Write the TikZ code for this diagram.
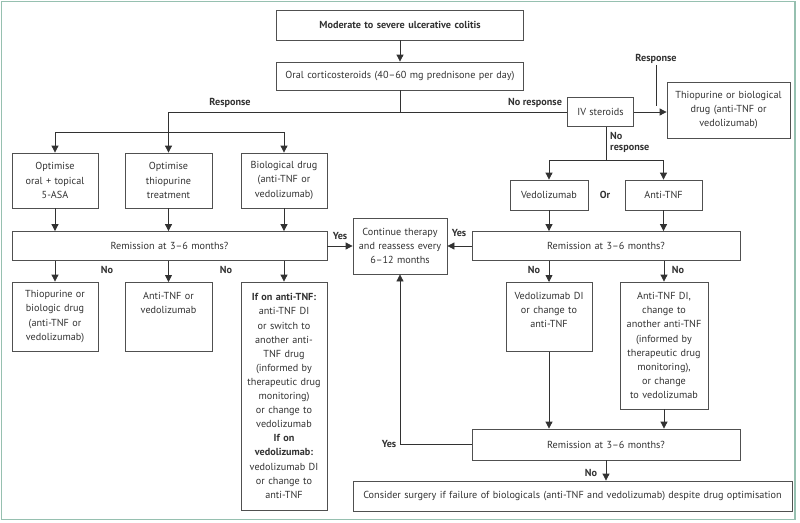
\documentclass[tikz,border=0pt]{standalone}
\usepackage{fontspec}
\setmainfont{PT Sans}
\usepackage{xcolor}
\usepackage{tikz}
\usetikzlibrary{arrows.meta}

\definecolor{frameteal}{RGB}{150,192,176}
\definecolor{ink}{RGB}{50,50,50}
\definecolor{boxline}{RGB}{80,80,80}

\tikzset{
  box/.style={draw=boxline, line width=0.8pt, align=center, inner sep=0pt, text width=#1},
  topbox/.style={anchor=north, text height=17pt, text depth=#1},
  lbl/.style={font=\fontsize{10.2}{12}\selectfont\bfseries, inner sep=1pt},
  ln/.style={draw=ink, line width=0.8pt},
  arr/.style={ln, -{Triangle[length=7pt,width=7pt]}}
}

\begin{document}
\begin{tikzpicture}[x=1pt,y=-1pt,
  every node/.append style={font=\fontsize{10.2}{14.1}\selectfont, text=ink}]
\useasboundingbox (0,0) rectangle (800,522);
\draw[frameteal, line width=1.5pt] (1.5,1.5) rectangle (795,519.5);

% top of the chart
\node[box=247pt, minimum height=30pt] (severe) at (400,25) {\bfseries Moderate to severe ulcerative colitis};
\node[box=247pt, minimum height=28pt] (oral) at (400,76) {Oral corticosteroids (40--60 mg prednisone per day)};
\node[box=66pt, minimum height=29pt] (iv) at (600.5,112) {IV steroids};
\node[box=123pt, minimum height=56pt] (thio) at (728.5,110) {Thiopurine or biological\\drug (anti-TNF or\\vedolizumab)};

% response branch
\node[box=86pt, minimum height=55pt] (opt1) at (55,180.5) {Optimise\\oral + topical\\5-ASA};
\node[box=87pt, minimum height=55pt] (opt2) at (168.5,180.5) {Optimise\\thiopurine\\treatment};
\node[box=86pt, minimum height=55pt] (opt3) at (284,180.5) {Biological drug\\(anti-TNF or\\vedolizumab)};
\node[box=315pt, minimum height=29pt] (remL) at (169.5,246) {Remission at 3--6 months?};
\node[box=86pt, minimum height=69pt] (noL1) at (55,316.5) {Thiopurine or\\biologic drug\\(anti-TNF or\\vedolizumab)};
\node[box=87pt, topbox=52pt] (noL2) at (168.5,282) {Anti-TNF or\\vedolizumab};
\node[box=86pt, minimum height=228pt] (noL3) at (284,396) {\textbf{If on anti-TNF:}\\anti-TNF DI\\or switch to\\another anti-\\TNF drug\\(informed by\\therapeutic drug\\monitoring)\\or change to\\vedolizumab\\\textbf{If on}\\\textbf{vedolizumab:}\\vedolizumab DI\\or change to\\anti-TNF};

\node[box=94pt, minimum height=56pt] (cont) at (400,246) {Continue therapy\\and reassess every\\6--12 months};

% no response branch
\node[box=78pt, minimum height=30pt] (vedo) at (549,195) {Vedolizumab};
\node[box=77pt, minimum height=30pt] (antitnf) at (663.5,195) {Anti-TNF};
\node[box=268pt, minimum height=29pt] (remR) at (606,246) {Remission at 3--6 months?};
\node[box=86pt, topbox=52pt] (vdi) at (549,282) {Vedolizumab DI\\or change to\\anti-TNF};
\node[box=88pt, minimum height=127pt] (tdi) at (664,345.5) {Anti-TNF DI,\\change to\\another anti-TNF\\(informed by\\therapeutic drug\\monitoring),\\or change\\to vedolizumab};
\node[box=268pt, minimum height=31pt] (remB) at (606,444.5) {Remission at 3--6 months?};
\node[box=439pt, minimum height=30pt] (surg) at (572.5,496) {Consider surgery if failure of biologicals (anti-TNF and vedolizumab) despite drug optimisation};

% labels
\node[lbl] (resp1) at (230,103) {Response};
\node[lbl] (noresp1) at (535,103) {No response};
\node[lbl] (resp2) at (656,59) {Response};
\node[lbl, align=left, anchor=west] (noresp2) at (609,142.5) {No\\[-1pt]response};
\node[lbl] (orlbl) at (605,195) {Or};
\node[lbl] (yes1) at (340,236) {Yes};
\node[lbl] (yes2) at (459,233) {Yes};
\node[lbl] (no1) at (107,270) {No};
\node[lbl] (no2) at (226,270) {No};
\node[lbl] (no3) at (534,270) {No};
\node[lbl] (no4) at (678,270) {No};
\node[lbl] (yes3) at (389,444) {Yes};
\node[lbl] (no5) at (591,473) {No};

\coordinate (split) at (400,112);
\coordinate (fan) at (168,132);
\coordinate (ivfan) at (606,160);
\coordinate (resptick) at (656,106);

% connectors
\draw[arr] (severe) -- (oral);
\draw[ln] (oral.south) -- (split) -- (iv.west);
\draw[arr] (split) -| (opt2.north);
\draw[ln] (fan -| opt1) -- (fan -| opt3);
\draw[arr] (fan -| opt1) -- (opt1);
\draw[arr] (fan -| opt3) -- (opt3);
\draw[arr] (iv.east) -- (iv.east -| thio.west);
\draw[ln, line width=0.5pt] (resp2.south) -- (resptick);
\draw[ln] (ivfan |- iv.south) -- (ivfan);
\draw[ln] (ivfan -| vedo) -- (ivfan -| antitnf);
\draw[arr] (ivfan -| vedo) -- (vedo);
\draw[arr] (ivfan -| antitnf) -- (antitnf);

\foreach \b in {opt1,opt2,opt3}
  \draw[arr] (\b) -- (\b |- remL.north);
\foreach \b in {noL1,noL2,noL3}
  \draw[arr] (remL.south -| \b) -- (\b.north);
\draw[arr] (remL) -- (cont);

\draw[arr] (vedo) -- (vedo |- remR.north);
\draw[arr] (antitnf) -- (antitnf |- remR.north);
\draw[arr] (remR) -- (cont);
\draw[arr] (remR.south -| vdi) -- (vdi.north);
\draw[arr] (remR.south -| tdi) -- (tdi.north);
\draw[arr] (vdi) -- (vdi |- remB.north);
\draw[arr] (tdi) -- (tdi |- remB.north);
\draw[arr] (remB.west) -| (cont.south);
\draw[arr] (remB) -- (remB |- surg.north);
\end{tikzpicture}
\end{document}
